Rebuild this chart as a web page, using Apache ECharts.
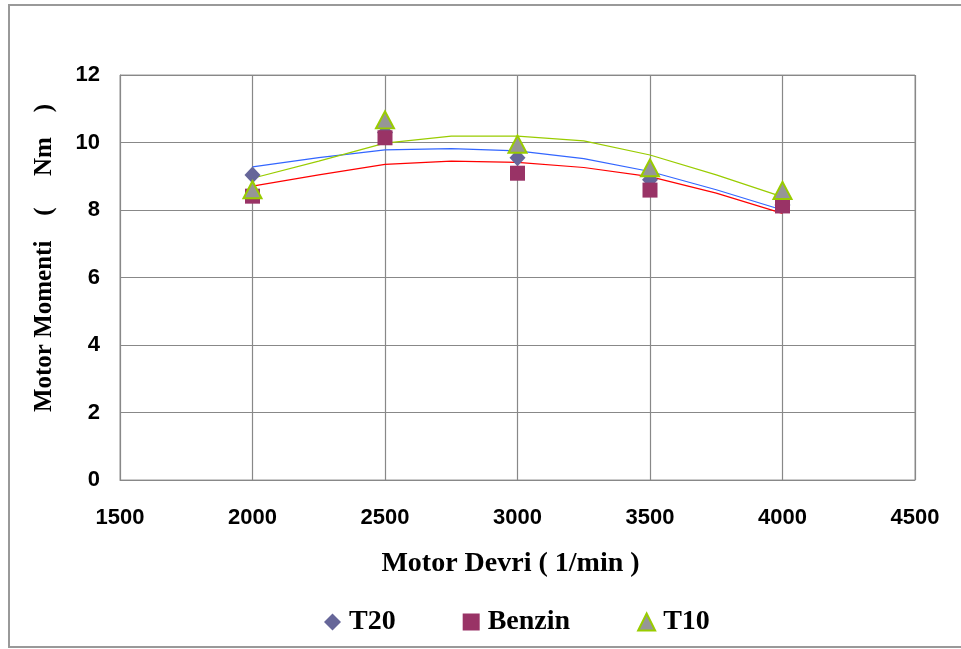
<!DOCTYPE html>
<html>
<head>
<meta charset="utf-8">
<script src="https://cdn.jsdelivr.net/npm/echarts@6/dist/echarts.min.js"></script>
<style>html,body{margin:0;padding:0;background:#fff}#c{width:961px;height:649px}</style>
</head>
<body>
<div id="c"></div>
<script>
// Measured points
var rpm = [2000, 2500, 3000, 3500, 4000];
var t20 = [9.04, 10.3, 9.55, 8.9, 8.15];
var benzin = [8.41, 10.14, 9.09, 8.59, 8.12];
var t10 = [8.6, 10.67, 9.95, 9.25, 8.58];

// Trend lines
var trendRpm = [2000, 2250, 2500, 2750, 3000, 3250, 3500, 3750, 4000];
var t20Trend = [9.28, 9.55, 9.78, 9.82, 9.75, 9.52, 9.14, 8.6, 8.0];
var benzinTrend = [8.71, 9.04, 9.35, 9.45, 9.41, 9.26, 8.99, 8.5, 7.9];
var t10Trend = [8.94, 9.45, 9.98, 10.19, 10.19, 10.05, 9.63, 9.04, 8.39];

var xTicks = [1500, 2000, 2500, 3000, 3500, 4000, 4500];
var yTicks = [0, 2, 4, 6, 8, 10, 12];

var names = ['T20', 'Benzin', 'T10'];
var xTitle = 'Motor Devri ( 1/min )';
var yTitle = 'Motor Momenti    (     Nm    )';

function pairs(xs, ys) { return xs.map(function (x, i) { return [x, ys[i]]; }); }

var serif = '"Liberation Serif", "Times New Roman", serif';
var sans = '"Liberation Sans", Arial, sans-serif';

var chart = echarts.init(document.getElementById('c'), null, { renderer: 'canvas' });
chart.setOption({
  animation: false,
  backgroundColor: '#fff',
  graphic: [{
    type: 'rect', silent: true,
    shape: { x: 9, y: 5, width: 1000, height: 642 },
    style: { fill: 'none', stroke: '#999', lineWidth: 2 }
  }, {
    type: 'text', silent: true,
    x: 45, y: 258, rotation: Math.PI / 2,
    style: { text: yTitle, fontFamily: serif, fontWeight: 'bold', fontSize: 25, fill: '#000',
      align: 'center', verticalAlign: 'middle' }
  }],
  grid: { left: 120, top: 75, right: 46, bottom: 169, show: true, borderColor: '#999', borderWidth: 1 },
  xAxis: {
    type: 'value', min: xTicks[0], max: xTicks[xTicks.length - 1], interval: 500,
    name: xTitle, nameLocation: 'middle', nameGap: 70,
    nameTextStyle: { fontFamily: serif, fontWeight: 'bold', fontSize: 28, color: '#000', padding: [0, 14, 0, 0] },
    axisLine: { show: true, lineStyle: { color: '#888', width: 1 } },
    axisTick: { show: false },
    axisLabel: { margin: 27, fontFamily: sans, fontWeight: 'bold', fontSize: 22, color: '#000',
      formatter: function (v) { return String(v); } },
    splitLine: { show: true, lineStyle: { color: '#888', width: 1.2 } }
  },
  yAxis: {
    type: 'value', min: yTicks[0], max: yTicks[yTicks.length - 1], interval: 2,
    axisLine: { show: true, lineStyle: { color: '#888', width: 1 } },
    axisTick: { show: false },
    axisLabel: { margin: 20, fontFamily: sans, fontWeight: 'bold', fontSize: 22, color: '#000' },
    splitLine: { show: true, lineStyle: { color: '#888', width: 1.2 } }
  },
  legend: {
    data: names,
    left: 319, top: 603,
    itemGap: 67, itemWidth: 17, itemHeight: 17,
    textStyle: { fontFamily: serif, fontWeight: 'bold', fontSize: 28, color: '#000', padding: [0, 0, 0, 3] }
  },
  series: [
    { name: 'T20 trend', type: 'line', data: pairs(trendRpm, t20Trend), smooth: false, showSymbol: false, z: 1,
      lineStyle: { color: '#3366ff', width: 1.2 }, itemStyle: { color: '#3366ff' } },
    { name: 'Benzin trend', type: 'line', data: pairs(trendRpm, benzinTrend), smooth: false, showSymbol: false, z: 1,
      lineStyle: { color: '#ff0000', width: 1.2 }, itemStyle: { color: '#ff0000' } },
    { name: 'T10 trend', type: 'line', data: pairs(trendRpm, t10Trend), smooth: false, showSymbol: false, z: 1,
      lineStyle: { color: '#99cc00', width: 1.2 }, itemStyle: { color: '#99cc00' } },
    { name: 'T20', type: 'scatter', data: pairs(rpm, t20), symbol: 'diamond', symbolSize: [16, 17], z: 3,
      itemStyle: { color: '#666699', opacity: 1 } },
    { name: 'Benzin', type: 'scatter', data: pairs(rpm, benzin), symbol: 'rect', symbolSize: 15, z: 4,
      itemStyle: { color: '#993366', opacity: 1 } },
    { name: 'T10', type: 'scatter', data: pairs(rpm, t10), symbol: 'triangle', symbolSize: [18, 17], z: 5,
      itemStyle: { color: '#969696', borderColor: '#99cc00', borderWidth: 2, opacity: 1 } }
  ]
});
</script>
</body>
</html>
